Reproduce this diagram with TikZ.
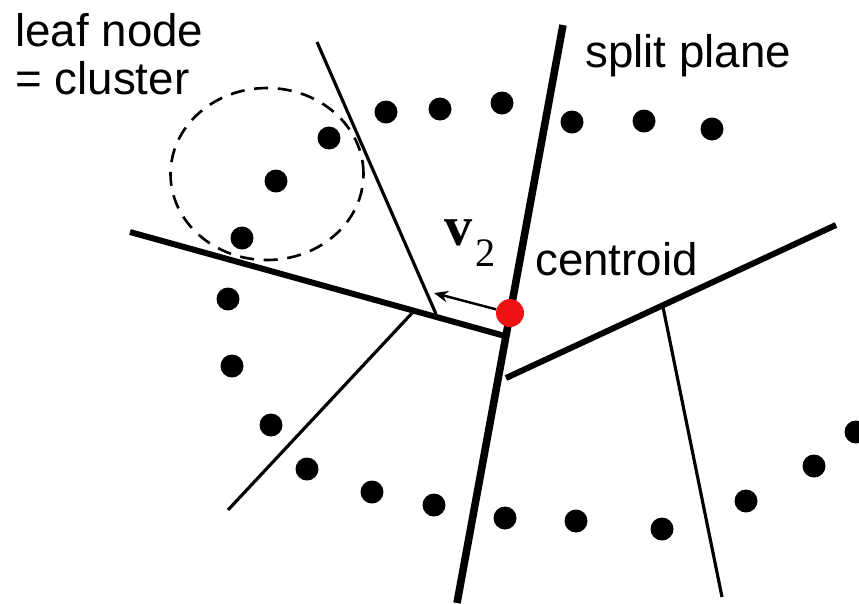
\documentclass[tikz,border=0pt]{standalone}
\usepackage{fontspec}
\setmainfont{Liberation Sans}
\newfontfamily\timesfont{Liberation Serif}
\usetikzlibrary{arrows.meta}
\definecolor{centroidred}{RGB}{240,18,18}
\definecolor{inkblack}{RGB}{0,0,0}
\tikzset{
  base/.style={inner sep=0pt, font=\fontsize{26}{27.4}\selectfont},
  point/.style={circle, fill=inkblack, inner sep=0pt, minimum size=0.46cm},
  centroidpt/.style={circle, fill=centroidred, inner sep=0pt, minimum size=0.56cm},
  splitmain/.style={line width=4.3pt, color=inkblack},
  splitthick/.style={line width=3.4pt, color=inkblack},
  splitthin/.style={line width=1.8pt, color=inkblack},
  clusterring/.style={draw=inkblack, dash pattern=on 8pt off 5.5pt, line width=1.5pt},
  vecarr/.style={-{Stealth[length=8pt, width=6.5pt]}, line width=1.4pt, color=inkblack},
}

\begin{document}
\begin{tikzpicture}[x=0.02cm, y=-0.02cm]
  \useasboundingbox (0,0) rectangle (859,603);

  % data points
  \foreach \px/\py [count=\i] in {329/138, 276/181, 242/238, 386/112, 440/109, 502/103,
      572/122, 644/121, 712/129, 228/299, 232/366, 271/425, 307/469, 372/492, 434/505,
      505/518, 576/521, 662/529, 746/501, 814/466, 856/432}
    \node[point] (p\i) at (\px,\py) {};

  % leaf cell
  \coordinate (leafc) at (267,174);
  \draw[clusterring] (leafc) ellipse [x radius=1.93cm, y radius=1.72cm];

  % split lines of the tree
  \coordinate (spTop) at (563,25);
  \coordinate (spBot) at (457,603);
  \coordinate (lTop)  at (130,232);
  \coordinate (lEnd)  at (505,336);
  \coordinate (rBeg)  at (506,378);
  \coordinate (rEnd)  at (836,225);
  \coordinate (tlTop) at (317,42);
  \coordinate (tlEnd) at (436,314);
  \coordinate (blTop) at (414,311);
  \coordinate (blBot) at (228,510);
  \coordinate (trTop) at (663,307);
  \coordinate (trBot) at (722,597);
  \coordinate (v2tip) at (434,293);

  \draw[splitmain]  (spTop) -- (spBot);
  \draw[splitthick] (lTop) -- (lEnd);
  \draw[splitthick] (rBeg) -- (rEnd);
  \draw[splitthin]  (tlTop) -- (tlEnd);
  \draw[splitthin]  (blTop) -- (blBot);
  \draw[splitthin]  (trTop) -- (trBot);

  \node[centroidpt] (cent) at (510,313) {};
  \draw[vecarr] (cent) -- (v2tip);

  \node[base, align=left, anchor=north west] (leaflbl) at (15,13) {leaf node\\= cluster};
  \node[base, anchor=base west] (splitlbl) at (585,67) {split plane};
  \node[base, anchor=base west] (centlbl)  at (535,275) {centroid};
  \node[inner sep=0pt, anchor=base west] (vlbl) at (444,245)
       {\timesfont\fontsize{32}{32}\selectfont\bfseries v\kern2pt\raisebox{-12.5pt}{\mdseries\fontsize{23}{23}\selectfont 2}};
\end{tikzpicture}
\end{document}
